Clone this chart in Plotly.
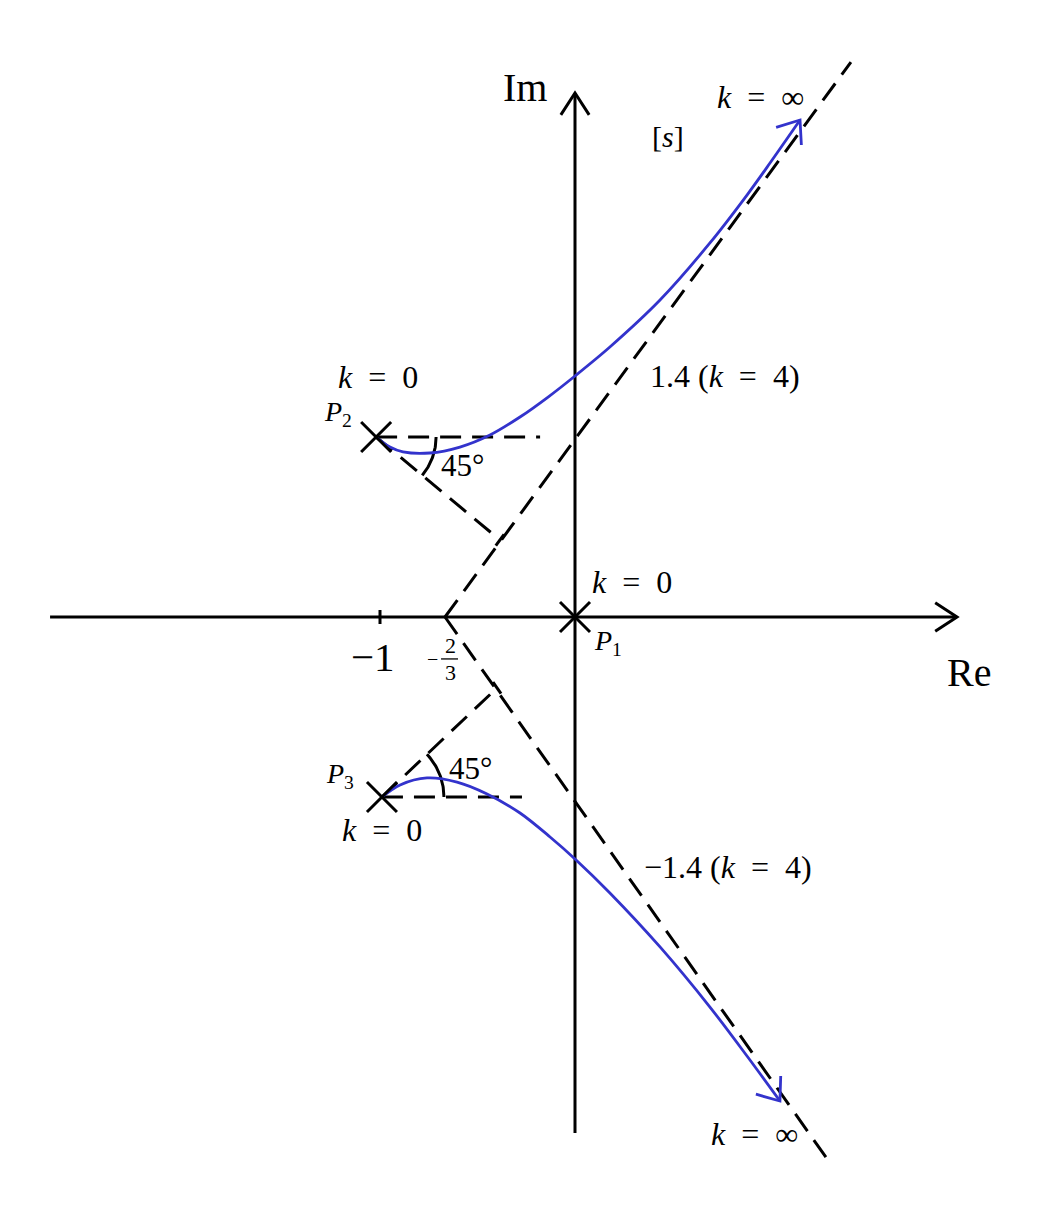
import numpy as np
import plotly.graph_objects as go

# ---------------- data (s-plane units) ----------------
poles_x = [0.0, -1.02, -0.99]
poles_y = [0.0, 1.0, -1.0]

centroid_x = -2 / 3
asym_up_end = (1.415, 3.083)
asym_dn_end = (1.297, -3.017)

# perpendiculars from complex poles to the asymptotes
perp_up_end = (-0.385, 0.428)
perp_dn_end = (-0.400, -0.394)
# horizontal reference lines from complex poles
href_up_end_x = -0.179
href_dn_end_x = -0.272

# root-locus branches
upper_x = [-1.02, -0.949, -0.882, -0.744, -0.590, -0.436, -0.282, -0.138, 0.0,
           0.179, 0.436, 0.692, 0.882, 1.000, 1.154]
upper_y = [1.0, 0.944, 0.917, 0.911, 0.944, 1.011, 1.111, 1.222, 1.339,
           1.50, 1.761, 2.078, 2.344, 2.522, 2.761]
lower_x = [-0.99, -0.897, -0.759, -0.605, -0.451, -0.282, -0.128, 0.0,
           0.179, 0.436, 0.692, 0.882, 1.051]
lower_y = [-1.0, -0.933, -0.894, -0.917, -0.983, -1.089, -1.222, -1.344,
           -1.533, -1.833, -2.167, -2.439, -2.689]

real_axis = (-2.692, 1.959)
imag_axis = (-2.867, 2.911)
tick_x = -1.0

# ---------------- drawing setup ----------------
W, H = 1046, 1197
OX, OY = 567, 609             # pixel position of the origin inside the figure
SX, SY = 195.0, 180.0          # px per unit
X_RANGE = [-OX / SX, (W - OX) / SX]
Y_RANGE = [(OY - H) / SY, OY / SY]

BLACK = "#000000"
BLUE = "#3333cc"
FONT = "Liberation Serif"
EN = "\u2002"

fig = go.Figure()


def line(xs, ys, color=BLACK, width=3, dash="solid", shape="linear"):
    ln = dict(color=color, width=width, dash=dash, shape=shape)
    if shape == "spline":
        ln["smoothing"] = 0.9
    fig.add_trace(go.Scatter(x=list(xs), y=list(ys), mode="lines", line=ln,
                             hoverinfo="skip", showlegend=False))


def chevron(tip, prev, color=BLACK, width=3, length=24, half=35):
    # open arrow head at tip, computed in pixel space
    dx = (prev[0] - tip[0]) * SX
    dy = (prev[1] - tip[1]) * SY
    a = np.arctan2(dy, dx)
    h = np.radians(half)
    xs, ys = [], []
    for s in (-1, 1):
        xs.append(tip[0] + length * np.cos(a + s * h) / SX)
        ys.append(tip[1] + length * np.sin(a + s * h) / SY)
    line([xs[0], tip[0], xs[1]], [ys[0], tip[1], ys[1]], color=color, width=width)


DASH = "21px,11px"

# axes
line(real_axis, [0, 0])
chevron((real_axis[1], 0), (real_axis[0], 0), length=26, half=33)
line([0, 0], imag_axis)
chevron((0, imag_axis[1]), (0, imag_axis[0]), length=26, half=33)
line([tick_x, tick_x], [-7 / SY, 7 / SY], width=3)

# asymptotes
line([centroid_x, asym_up_end[0]], [0, asym_up_end[1]], dash=DASH)
line([centroid_x, asym_dn_end[0]], [0, asym_dn_end[1]], dash=DASH)

# horizontal references
line([poles_x[1], href_up_end_x], [poles_y[1], poles_y[1]], dash=DASH)
line([poles_x[2], href_dn_end_x], [poles_y[2], poles_y[2]], dash=DASH)

# perpendiculars with end bars
for (px_, py_), end, aend in (((poles_x[1], poles_y[1]), perp_up_end, asym_up_end),
                              ((poles_x[2], poles_y[2]), perp_dn_end, asym_dn_end)):
    line([px_, end[0]], [py_, end[1]], dash=DASH)
    ux = (aend[0] - centroid_x) * SX
    uy = aend[1] * SY
    n = np.hypot(ux, uy)
    ux, uy = ux / n, uy / n
    b = 7
    line([end[0] - b * ux / SX, end[0] + b * ux / SX],
         [end[1] - b * uy / SY, end[1] + b * uy / SY])

# angle arcs (45 deg)
for (px_, py_), end, r in (((poles_x[1], poles_y[1]), perp_up_end, 60),
                           ((poles_x[2], poles_y[2]), perp_dn_end, 62)):
    ang = np.arctan2((end[1] - py_) * SY, (end[0] - px_) * SX)
    t = np.linspace(0, ang, 40)
    line(px_ + r * np.cos(t) / SX, py_ + r * np.sin(t) / SY)

# locus branches
line(upper_x, upper_y, color=BLUE, width=2.8, shape="spline")
chevron((upper_x[-1], upper_y[-1]), (upper_x[-2], upper_y[-2]), color=BLUE, width=2.8,
        length=25, half=38)
line(lower_x, lower_y, color=BLUE, width=2.8, shape="spline")
chevron((lower_x[-1], lower_y[-1]), (lower_x[-2], lower_y[-2]), color=BLUE, width=2.8,
        length=25, half=38)

# pole crosses
for x0, y0 in zip(poles_x, poles_y):
    c = 15
    line([x0 - c / SX, x0 + c / SX], [y0 - c / SY, y0 + c / SY], width=3)
    line([x0 - c / SX, x0 + c / SX], [y0 + c / SY, y0 - c / SY], width=3)

# fraction bar for -2/3
line([-0.687, -0.600], [-0.233, -0.233], width=1.3)

K0 = "<i>k</i>" + EN + "=" + EN + "0"
KINF = "<i>k</i>" + EN + "=" + EN + "∞"
K4 = "(<i>k</i>" + EN + "=" + EN + "4)"
labels = [
    ("Im", -0.256, 2.939, 40),
    ("Re", 2.021, -0.306, 40),
    ("−1", -1.036, -0.222, 41),
    ("[<i>s</i>]", 0.477, 2.667, 30),
    (KINF, 0.949, 2.889, 32),
    (KINF, 0.918, -2.872, 32),
    ("1.4 " + K4, 0.769, 1.339, 32),
    ("−1.4 " + K4, 0.785, -1.389, 32),
    (K0, 0.292, 0.194, 32),
    ("<i>P</i><sub>1</sub>", 0.169, -0.139, 28),
    (K0, -1.010, 1.333, 32),
    ("<i>P</i><sub>2</sub>", -1.215, 1.133, 28),
    ("<i>P</i><sub>3</sub>", -1.205, -0.883, 28),
    (K0, -0.990, -1.183, 32),
    ("45°", -0.579, 0.844, 31),
    ("45°", -0.538, -0.844, 31),
    ("−", -0.733, -0.233, 20),
    ("2", -0.641, -0.160, 22),
    ("3", -0.641, -0.306, 22),
]
for txt, x, y, s in labels:
    fig.add_annotation(x=x, y=y, text=txt, showarrow=False, xref="x", yref="y",
                       xanchor="center", yanchor="middle",
                       font=dict(family=FONT, size=s, color="black"))

fig.update_layout(
    width=W, height=H, autosize=False,
    margin=dict(l=0, r=0, t=0, b=0),
    paper_bgcolor="white", plot_bgcolor="white",
    xaxis=dict(range=X_RANGE, visible=False, fixedrange=True),
    yaxis=dict(range=Y_RANGE, visible=False, fixedrange=True),
    showlegend=False,
)
fig.write_html("out.html")
